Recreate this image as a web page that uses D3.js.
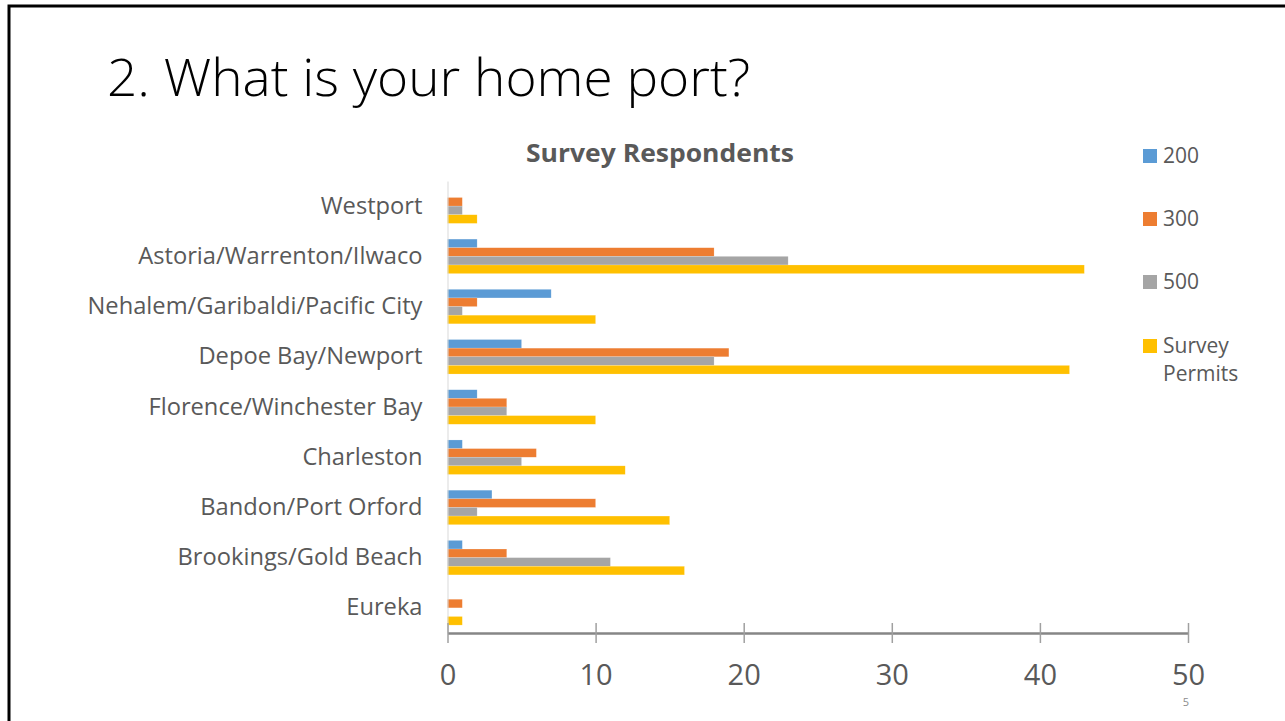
<!DOCTYPE html>
<html>
<head>
<meta charset="utf-8">
<script src="https://cdn.jsdelivr.net/npm/d3@7"></script>
<style>
  html, body { margin: 0; padding: 0; background: #fff; }
  svg { display: block; }
  text { font-family: "Open Sans", sans-serif; }
</style>
</head>
<body>
<svg id="chart" width="1285" height="721"></svg>
<script>
// ---- data ----
const categories = [
  "Westport",
  "Astoria/Warrenton/Ilwaco",
  "Nehalem/Garibaldi/Pacific City",
  "Depoe Bay/Newport",
  "Florence/Winchester Bay",
  "Charleston",
  "Bandon/Port Orford",
  "Brookings/Gold Beach",
  "Eureka"
];
const seriesNames = ["200", "300", "500", "Survey Permits"];
const values200 = [0, 2, 7, 5, 2, 1, 3, 1, 0];
const values300 = [1, 18, 2, 19, 4, 6, 10, 4, 1];
const values500 = [1, 23, 1, 18, 4, 5, 2, 11, 0];
const valuesPermits = [2, 43, 10, 42, 10, 12, 15, 16, 1];
const xTicks = [0, 10, 20, 30, 40, 50];
const pageTitle = "2. What is your home port?";
const chartTitle = "Survey Respondents";
const pageNumber = "5";

const seriesValues = [values200, values300, values500, valuesPermits];
const colors = ["#5B9BD5", "#ED7D31", "#A5A5A5", "#FFC000"];

// ---- layout ----
const svg = d3.select("#chart");
svg.append("rect").attr("width", 1285).attr("height", 721).attr("fill", "#fff");

// slide frame
svg.append("path")
  .attr("d", "M9,721 L9,6 L1290,6")
  .attr("fill", "none").attr("stroke", "#000").attr("stroke-width", 3);

// slide title
svg.append("text")
  .attr("x", 107).attr("y", 96)
  .attr("font-size", 52).attr("font-weight", 300)
  .attr("fill", "#000")
  .attr("textLength", 643).attr("lengthAdjust", "spacingAndGlyphs")
  .text(pageTitle);

const plotLeft = 447.5, plotRight = 1188, plotTop = 181, plotBottom = 633;

const x = d3.scaleLinear().domain([0, 50]).range([plotLeft, plotRight]);
const y = d3.scaleBand().domain(categories).range([plotTop, plotBottom])
  .paddingInner(0.313).paddingOuter(0.157);
const ySub = d3.scaleBand().domain(d3.range(seriesNames.length)).range([0, y.bandwidth()]);

// chart title
svg.append("text")
  .attr("x", 660).attr("y", 162)
  .attr("text-anchor", "middle")
  .attr("font-size", 25.5).attr("font-weight", 700)
  .attr("fill", "#595959")
  .attr("textLength", 268).attr("lengthAdjust", "spacingAndGlyphs")
  .text(chartTitle);

// bars
const groups = svg.append("g").selectAll("g")
  .data(seriesNames)
  .join("g")
  .attr("fill", (d, i) => colors[i]);

groups.each(function(name, si) {
  d3.select(this).selectAll("rect")
    .data(categories.map((c, ci) => ({ c, v: seriesValues[si][ci] })))
    .join("rect")
    .attr("x", x(0))
    .attr("y", d => y(d.c) + ySub(si))
    .attr("width", d => x(d.v) - x(0))
    .attr("height", ySub.bandwidth())
    .attr("stroke", "#fff").attr("stroke-opacity", 0.35).attr("stroke-width", 0.5);
});

// y axis
const yAxis = svg.append("g")
  .attr("transform", `translate(${plotLeft},0)`)
  .call(d3.axisLeft(y).tickSize(0).tickPadding(25));
yAxis.select(".domain").attr("stroke", "#d9d9d9").attr("stroke-width", 1);
yAxis.selectAll("text")
  .attr("font-size", 23.7).attr("fill", "#595959")
  .attr("font-family", "'Open Sans', sans-serif");

// x axis
const xAxis = svg.append("g")
  .attr("transform", `translate(0,${plotBottom})`)
  .call(d3.axisBottom(x).tickValues(xTicks).tickSize(10).tickSizeOuter(0));
xAxis.select(".domain").attr("stroke", "#868686").attr("stroke-width", 2.5);
xAxis.selectAll(".tick line").attr("y1", -10).attr("y2", 10)
  .attr("stroke", "#a0a0a0").attr("stroke-width", 1.5);
xAxis.selectAll(".tick text")
  .attr("y", 52).attr("dy", 0)
  .attr("font-size", 29).attr("fill", "#595959")
  .attr("font-family", "'Open Sans', sans-serif");

// legend
const legendY = [163, 226, 289, 353];
const legend = svg.append("g").selectAll("g")
  .data(seriesNames)
  .join("g")
  .attr("transform", (d, i) => `translate(1143,${legendY[i]})`);
legend.append("rect")
  .attr("x", 0).attr("y", -14).attr("width", 14).attr("height", 14)
  .attr("fill", (d, i) => colors[i]);
legend.append("text")
  .attr("x", 20).attr("y", 0)
  .attr("font-size", 21).attr("fill", "#595959")
  .each(function(d) {
    const words = d.split(" ");
    const t = d3.select(this);
    words.forEach((w, wi) => {
      t.append("tspan").attr("x", 20).attr("dy", wi === 0 ? 0 : 28).text(w);
    });
  });

// page number
svg.append("text")
  .attr("x", 1186).attr("y", 706)
  .attr("text-anchor", "middle")
  .attr("font-size", 11).attr("fill", "#8c8c8c")
  .text(pageNumber);
</script>
</body>
</html>
